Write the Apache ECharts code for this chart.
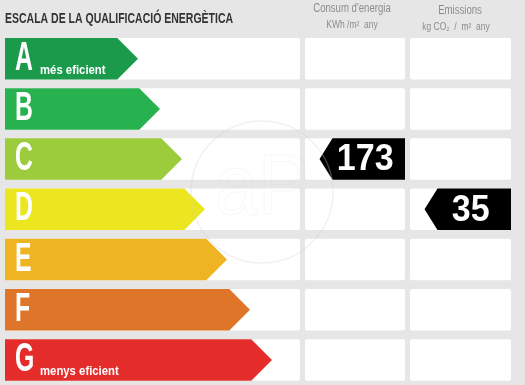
<!DOCTYPE html>
<html><head><meta charset="utf-8">
<script src="https://cdn.jsdelivr.net/npm/echarts/dist/echarts.min.js"></script>
<style>html,body{margin:0;padding:0;background:#e6e6e6;overflow:hidden}#c{width:525px;height:385px}</style>
</head><body><div id="c"></div>
<script>
// ---- data ----
const classes = ['A','B','C','D','E','F','G'];
const classColors = ['#1b9a4c','#27b24f','#9ccb3b','#ebe61f','#efb421','#df7528','#e42d2b'];
const arrowTips = [138,160,182,205,227,250,272];
const classNotes = ['més eficient','','','','','','menys eficient'];
const consumptionValue = 173;
const consumptionClass = 'C';
const emissionsValue = 35;
const emissionsClass = 'D';
const titleText = 'ESCALA DE LA QUALIFICACIÓ ENERGÈTICA';
const columnHeaders = ["Consum d'energia", 'Emissions'];
const columnUnits = ['KWh /m²  any', 'kg CO₂  /  m²  any'];

// ---- layout ----
const COLS = [[5,300],[305,405],[410,511]];
const BOX_RATIO = 42/50.8;
const SANS = '"Liberation Sans",Arial,sans-serif';

const chart = echarts.init(document.getElementById('c'), null, {renderer:'canvas'});

function rowGeom(api, idx){
  const yc = api.coord([0, idx])[1];
  const band = api.size([0,1])[1];
  const h = band*BOX_RATIO;
  return {yc, h, top: yc-h/2, bottom: yc+h/2};
}
function xc(api, v){ return api.coord([v, 0])[0]; }

const option = {
  animation:false,
  backgroundColor:'#e6e6e6',
  grid:{left:0, top:33.6, width:525, height:355.6},
  xAxis:{type:'value', min:0, max:525, show:false},
  yAxis:{type:'category', data:classes, inverse:true, show:false},
  graphic:[
    {type:'text', x:5, y:18.5, scaleX:0.70, style:{text:titleText, font:'bold 15px '+SANS, fill:'#333333', verticalAlign:'middle', align:'left'}},
    {type:'text', x:352, y:8.5, scaleX:0.8, style:{text:columnHeaders[0], font:'12px '+SANS, fill:'#8c8c8c', align:'center', verticalAlign:'middle'}},
    {type:'text', x:352, y:25, scaleX:0.85, style:{text:columnUnits[0], font:'10px '+SANS, fill:'#8c8c8c', align:'center', verticalAlign:'middle'}},
    {type:'text', x:460, y:11, scaleX:0.8, style:{text:columnHeaders[1], font:'12px '+SANS, fill:'#8c8c8c', align:'center', verticalAlign:'middle'}},
    {type:'text', x:456, y:27, scaleX:0.85, style:{text:columnUnits[1], font:'10px '+SANS, fill:'#8c8c8c', align:'center', verticalAlign:'middle'}},
    {type:'circle', z:100, silent:true, shape:{cx:262, cy:192, r:71}, style:{fill:'none', stroke:'rgba(210,210,210,0.3)', lineWidth:1.5}},
    {type:'text', z:100, silent:true, x:262, y:190, scaleX:0.9, style:{text:'aP', font:'86px '+SANS, fill:'none', stroke:'rgba(210,210,210,0.18)', lineWidth:1, align:'center', verticalAlign:'middle'}}
  ],
  series:[
    {
      type:'custom', coordinateSystem:'cartesian2d', z:1,
      data: classes.map(c => [0, c]),
      encode:{x:0, y:1},
      renderItem:(params, api) => {
        const g = rowGeom(api, api.value(1));
        return {type:'group', children: COLS.map(cl => {
          const x0 = xc(api, cl[0]), x1 = xc(api, cl[1]);
          return {type:'rect', shape:{x:x0, y:g.top, width:x1-x0, height:g.h, r:2}, style:{fill:'#ffffff'}};
        })};
      }
    },
    {
      type:'custom', coordinateSystem:'cartesian2d', z:2,
      data: classes.map((c,i) => [arrowTips[i], c]),
      encode:{x:0, y:1},
      renderItem:(params, api) => {
        const i = params.dataIndex;
        const g = rowGeom(api, api.value(1));
        const left = xc(api, COLS[0][0]);
        const tip = api.coord([api.value(0), api.value(1)])[0];
        const body = tip - g.h/2;
        const children = [
          {type:'polygon', shape:{points:[[left,g.top],[body,g.top],[tip,g.yc],[body,g.bottom],[left,g.bottom]]}, style:{fill:classColors[i]}},
          {type:'text', x:left+10, y:g.yc, scaleX:0.62, style:{text:classes[i], font:'bold 40px '+SANS, fill:'#ffffff', align:'left', verticalAlign:'middle'}}
        ];
        if (classNotes[i]) {
          children.push({type:'text', x:left+35, y:g.top+32.5, scaleX:0.84, style:{text:classNotes[i], font:'bold 13.5px '+SANS, fill:'#ffffff', align:'left', verticalAlign:'middle'}});
        }
        return {type:'group', children};
      }
    },
    {
      type:'custom', coordinateSystem:'cartesian2d', z:3,
      data: [[consumptionValue, consumptionClass, 1], [emissionsValue, emissionsClass, 2]],
      encode:{y:1},
      renderItem:(params, api) => {
        const col = api.value(2);
        const g = rowGeom(api, api.value(1));
        const x0 = xc(api, COLS[col][0]+14.5), x1 = xc(api, COLS[col][1]);
        const d = 13;
        return {type:'group', children:[
          {type:'polygon', shape:{points:[[x0,g.yc],[x0+d,g.top],[x1,g.top],[x1,g.bottom],[x0+d,g.bottom]]}, style:{fill:'#000000'}},
          {type:'text', x:(x0+x1)/2+3, y:g.yc+1, scaleX:0.92, style:{text:String(api.value(0)), font:'bold 37px '+SANS, fill:'#ffffff', align:'center', verticalAlign:'middle'}}
        ]};
      }
    }
  ]
};
chart.setOption(option);
</script>
</body></html>
